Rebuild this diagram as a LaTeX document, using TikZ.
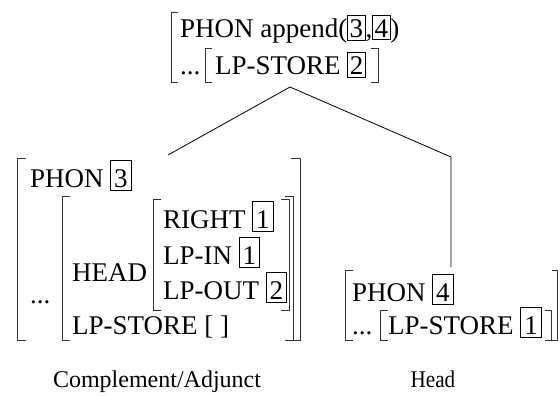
\documentclass[tikz,border=0pt]{standalone}
\usepackage{fontspec}
\setmainfont{Liberation Serif}
% boxed tags: \tagbox for the feature structures, \tagsmall for the mother node
\newcommand\tagbox[1]{{\fboxsep=3pt\fboxrule=0.8pt\fbox{\rule{0pt}{23pt}#1}}}
\newcommand\tagsmall[1]{{\fboxsep=1.5pt\fboxrule=0.8pt\fbox{\rule{0pt}{21pt}#1}}}
\begin{document}
\begin{tikzpicture}[x=1pt,y=-1pt,
  txt/.style={anchor=base west,inner sep=0pt,font=\fontsize{27}{32}\selectfont},
  lbl/.style={anchor=base,inner sep=0pt,font=\fontsize{24}{28}\selectfont},
  brk/.style={line width=0.8pt,draw=black!80},
  branch/.style={line width=0.8pt}]
\useasboundingbox (0,0) rectangle (560,396);

% mother node
\node[txt] (m1) at (180,38) {PHON append(\tagsmall{3},\tagsmall{4})};
\node[txt] (m2a) at (180,75) {...};
\node[txt] (m2) at (215,75) {LP-STORE \tagsmall{2}};
\draw[brk] (178,12) -- (171,12) -- (171,82) -- (178,82);
\draw[brk] (212,48) -- (205,48) -- (205,82) -- (212,82);
\draw[brk] (371,48) -- (378,48) -- (378,82) -- (371,82);

% tree branches
\coordinate (apex) at (290,87);
\coordinate (lend) at (168,155);
\coordinate (rbend) at (451,157);
\coordinate (rend) at (451,267);
\draw[branch] (lend) -- (apex) -- (rbend) -- (rend);

% complement / adjunct daughter
\node[txt] (c1) at (30,187) {PHON \tagbox{3}};
\node[txt] (c2) at (163,228) {RIGHT \tagbox{1}};
\node[txt] (c3) at (163,264) {LP-IN \tagbox{1}};
\node[txt] (c4) at (163,299) {LP-OUT \tagbox{2}};
\node[txt] (c5) at (72,281) {HEAD};
\node[txt] (c6) at (30,303) {...};
\node[txt] (c7) at (72,334) {LP-STORE [ ]};
% outer brackets
\draw[brk] (26,158) -- (17,158) -- (17,340) -- (26,340);
\draw[brk] (291,158) -- (300,158) -- (300,340) -- (291,340);
% HEAD|LP-STORE brackets
\draw[brk] (70,196) -- (62,196) -- (62,340) -- (70,340);
\draw[brk] (285,196) -- (293,196) -- (293,340) -- (285,340);
% RIGHT/LP-IN/LP-OUT brackets
\draw[brk] (161,199) -- (153,199) -- (153,310) -- (161,310);
\draw[brk] (281,199) -- (289,199) -- (289,310) -- (281,310);

% head daughter
\node[txt] (h1) at (352,301) {PHON \tagbox{4}};
\node[txt] (h2a) at (352,334) {...};
\node[txt] (h2) at (388,334) {LP-STORE \tagbox{1}};
\draw[brk] (353,270) -- (345,270) -- (345,340) -- (353,340);
\draw[brk] (388,310) -- (380,310) -- (380,340) -- (388,340);
\draw[brk] (545,310) -- (551,310) -- (551,340) -- (545,340);
\draw[brk] (552,270) -- (557,270) -- (557,340) -- (552,340);

% labels
\node[lbl] (lc) at (157,387) {Complement/Adjunct};
\node[lbl,xscale=0.88] (lh) at (433,387) {Head};
\end{tikzpicture}
\end{document}
